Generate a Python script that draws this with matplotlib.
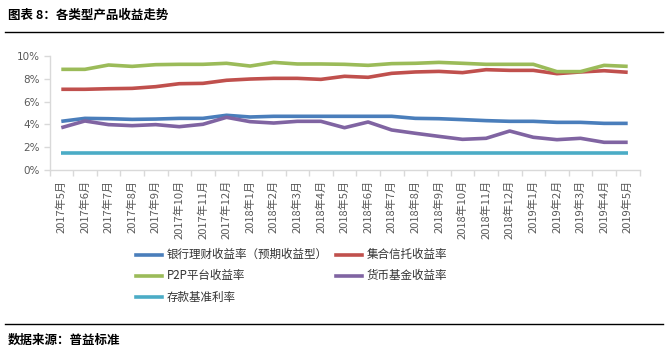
import matplotlib
matplotlib.use("Agg")
import matplotlib.pyplot as plt
from matplotlib.lines import Line2D
import numpy as np

plt.rcParams['font.family'] = ['Noto Sans CJK SC', 'DejaVu Sans']

months = ["2017年5月", "2017年6月", "2017年7月", "2017年8月", "2017年9月", "2017年10月",
          "2017年11月", "2017年12月", "2018年1月", "2018年2月", "2018年3月", "2018年4月",
          "2018年5月", "2018年6月", "2018年7月", "2018年8月", "2018年9月", "2018年10月",
          "2018年11月", "2018年12月", "2019年1月", "2019年2月", "2019年3月", "2019年4月",
          "2019年5月"]

bank = [4.27, 4.53, 4.50, 4.44, 4.47, 4.53, 4.53, 4.80, 4.65, 4.71, 4.71, 4.71, 4.71,
        4.71, 4.71, 4.53, 4.50, 4.42, 4.33, 4.27, 4.27, 4.18, 4.18, 4.09, 4.09]
trust = [7.08, 7.08, 7.13, 7.16, 7.31, 7.57, 7.60, 7.87, 7.98, 8.04, 8.04, 7.95, 8.22,
         8.13, 8.48, 8.60, 8.65, 8.54, 8.80, 8.74, 8.74, 8.45, 8.60, 8.71, 8.57]
p2p = [8.83, 8.83, 9.21, 9.09, 9.24, 9.27, 9.27, 9.36, 9.12, 9.44, 9.30, 9.30, 9.27,
       9.18, 9.33, 9.36, 9.44, 9.36, 9.27, 9.27, 9.27, 8.63, 8.63, 9.18, 9.09]
mmf = [3.71, 4.30, 3.98, 3.89, 3.98, 3.80, 4.01, 4.62, 4.24, 4.12, 4.27, 4.27, 3.71,
       4.21, 3.51, 3.22, 2.95, 2.69, 2.78, 3.42, 2.87, 2.66, 2.78, 2.43, 2.43]
deposit = [1.5] * 25

series_names = ["银行理财收益率（预期收益型）", "集合信托收益率", "P2P平台收益率", "货币基金收益率", "存款基准利率"]
series_vals = [bank, trust, p2p, mmf, deposit]
colors = ["#4a7ebb", "#c0504d", "#9bbb59", "#8064a2", "#4bacc6"]
yticks = [0, 2, 4, 6, 8, 10]
ytick_labels = ["0%", "2%", "4%", "6%", "8%", "10%"]

W, H = 668, 357
fig = plt.figure(figsize=(W / 100, H / 100), dpi=100)

def fx(px):
    return px / W

def fy(py):
    return 1 - py / H

ax = fig.add_axes([fx(49.5), fy(170), fx(639.5) - fx(49.5), fy(56) - fy(170)])
x = np.arange(len(months))
lines = []
for name, vals, c in zip(series_names, series_vals, colors):
    ln, = ax.plot(x, vals, color=c, lw=2.6, solid_capstyle='butt', label=name)
    lines.append(ln)

ax.set_xlim(-0.5, len(months) - 0.5)
ax.set_ylim(0, 10)
ax.set_yticks(yticks)
ax.set_yticklabels(ytick_labels, fontsize=7.5, color="#595959", family=['DejaVu Sans'])
ax.set_xticks(x)
ax.set_xticklabels(months, rotation=90, fontsize=8, color="#595959")
ax.set_xticks(np.arange(-0.5, len(months)), minor=True)
ax.tick_params(axis='x', which='major', length=0, pad=7)
ax.tick_params(axis='x', which='minor', length=4, color="#d9d9d9", width=1)
ax.tick_params(axis='y', length=4, color="#d9d9d9", width=1, pad=3)
for s in ['top', 'right']:
    ax.spines[s].set_visible(False)
for s in ['left', 'bottom']:
    ax.spines[s].set_color("#d9d9d9")
    ax.spines[s].set_linewidth(1)

# title and rules
fig.text(fx(8), fy(15), "图表 8：各类型产品收益走势", fontsize=9, fontweight='bold',
         va='center', ha='left', color='black')
fig.add_artist(Line2D([fx(5), fx(663)], [fy(31.5), fy(31.5)], color='black', lw=1))
fig.add_artist(Line2D([fx(5), fx(663)], [fy(323.5), fy(323.5)], color='black', lw=1))
fig.text(fx(8), fy(340), "数据来源：普益标准", fontsize=9, fontweight='bold',
         va='center', ha='left', color='black')

# legend (manual layout)
pos = [(136, 254.5), (336, 254.5), (136, 276), (336, 276), (136, 297)]
for ln, (lx, ly) in zip(lines, pos):
    fig.add_artist(Line2D([fx(lx), fx(lx + 26)], [fy(ly), fy(ly)], color=ln.get_color(), lw=2.6))
    fig.text(fx(lx + 31), fy(ly), ln.get_label(), fontsize=8.3, va='center', ha='left',
             color='#333333')

fig.savefig("out.png", dpi=100)
